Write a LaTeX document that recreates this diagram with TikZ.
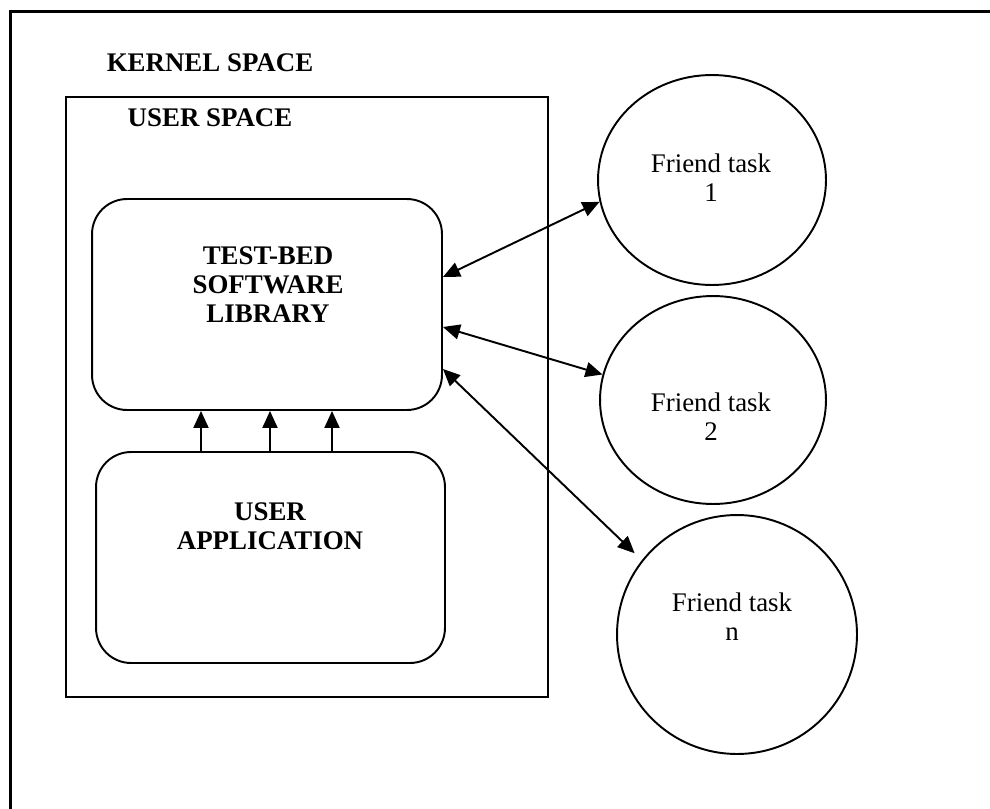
\documentclass[tikz,border=0pt]{standalone}
\usepackage{fontspec}
\setmainfont{Liberation Serif}
\usetikzlibrary{shapes.geometric,arrows.meta}

\begin{document}
\begin{tikzpicture}[x=0.02cm,y=-0.02cm]
   \tikzstyle{every node}=[font=\fontsize{15.3}{16.5}\selectfont, align=center]
   \tikzstyle{title}=[font=\fontsize{15.3}{16.5}\selectfont\bfseries]
   \tikzstyle{box}=[draw, line width=1.1pt, minimum width=7cm, minimum height=4.22cm, rounded corners=0.7cm]
   \tikzstyle{task}=[draw, ellipse, line width=1.1pt, inner sep=0pt]
   \tikzstyle{link}=[line width=1.1pt, {Triangle[length=0.34cm,width=0.3cm]}-{Triangle[length=0.34cm,width=0.3cm]}]
   \tikzstyle{call}=[line width=1.1pt, -{Triangle[length=0.34cm,width=0.3cm]}]

\useasboundingbox (0,0) rectangle (990,808);
\clip (0,0) rectangle (990,808);

\node[draw, line width=1.5pt, minimum width=20cm, minimum height=16.5cm, anchor=north west] (kernel) at (9,10) {};
\node[title] (kernellbl) at (210,63) {KERNEL SPACE};

\node[draw, line width=1.1pt, minimum width=9.64cm, minimum height=12cm] (user) at (307,397) {};
\node[title] (userlbl) at (210,118) {USER SPACE};

\node[box] (tb) at (267,304.5) {};
\node[title] (tbtext) at (268,285) {TEST-BED\\SOFTWARE\\LIBRARY};

\node[box, minimum width=6.98cm] (ua) at (270.5,557.5) {};
\node[title] (uatext) at (270,526) {USER\\APPLICATION};

\node[task, minimum width=4.56cm, minimum height=4.2cm] (f1) at (712,180) {};
\node (t1) at (711,178) {Friend task\\1};
\node[task, minimum width=4.52cm, minimum height=4.16cm] (f2) at (713,400) {};
\node (t2) at (711,417) {Friend task\\2};
\node[task, minimum width=4.8cm, minimum height=4.78cm] (fn) at (737,634.5) {};
\node (tn) at (732,617) {Friend task\\n};

\foreach \x in {201,270,332}
   \draw[call] (\x,0 |- ua.north) -- (\x,0 |- tb.south);

\draw[link] ([yshift=0.55cm]tb.east) -- (f1.191);
\draw[link] ([yshift=-0.45cm]tb.east) -- (f2.167);
\draw[link, shorten >=0.2cm] ([yshift=-1.29cm]tb.east) -- (fn.142);

\end{tikzpicture}
\end{document}
